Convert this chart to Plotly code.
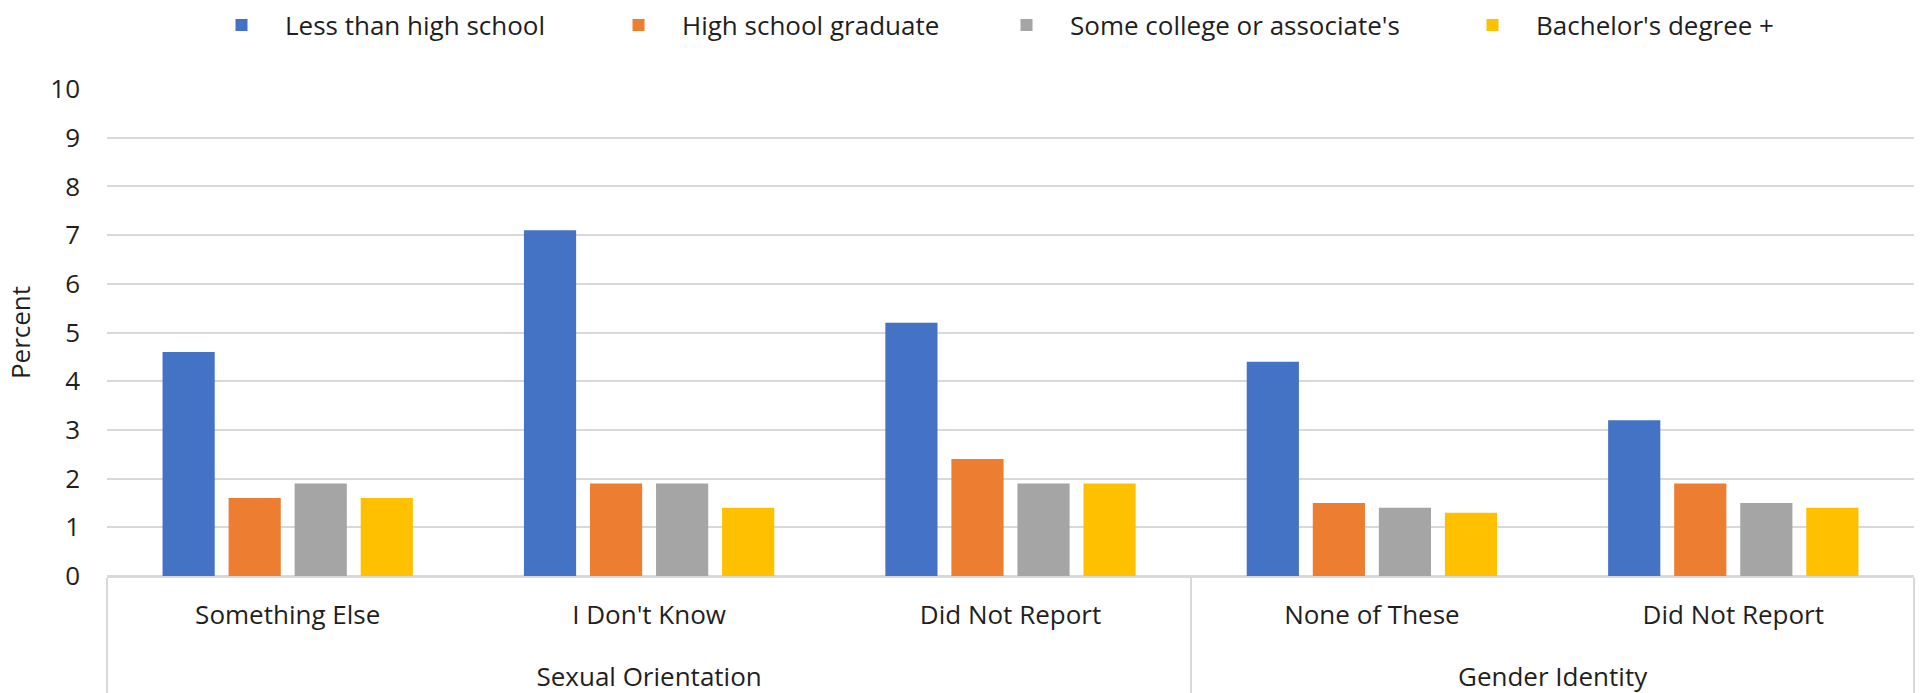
import plotly.graph_objects as go

# Grouping of the x axis: outer group and inner category
groups = ["Sexual Orientation", "Sexual Orientation", "Sexual Orientation",
          "Gender Identity", "Gender Identity"]
categories = ["Something Else", "I Don't Know", "Did Not Report",
              "None of These", "Did Not Report"]

# Percent by education level
less_than_hs = [4.6, 7.1, 5.2, 4.4, 3.2]
hs_graduate = [1.6, 1.9, 2.4, 1.5, 1.9]
some_college = [1.9, 1.9, 1.9, 1.4, 1.5]
bachelors_plus = [1.6, 1.4, 1.9, 1.3, 1.4]

series_names = ["Less than high school", "High school graduate",
                "Some college or associate's", "Bachelor's degree +"]
series_values = [less_than_hs, hs_graduate, some_college, bachelors_plus]
colors = ["#4472C4", "#ED7D31", "#A5A5A5", "#FFC000"]
legend_ids = ["legend", "legend2", "legend3", "legend4"]

y_ticks = list(range(0, 11))

# Plotly orders multicategory items by the first appearance of each inner label,
# so "None of These" is fed before the second "Did Not Report" to keep the
# within-group order (the groups themselves stay in their listed order).
feed_order = [0, 1, 3, 2, 4]

FONT = "Open Sans"
FS = 26
TEXT = "#1f1f1f"
GRID = "#d9d9d9"

W, H = 1923, 693
L, R, T, B = 107, 9, 89, 117
plot_w = W - L - R
plot_h = H - T - B

# A blank trailing line under each category label opens up the space between
# the category row and the group row of the axis.
SPACER = '<br><span style="font-size:46px">\u00a0</span>'

x_outer = [groups[i] for i in feed_order]
x_inner = [categories[i] + SPACER for i in feed_order]

fig = go.Figure()
for name, vals, col, lg in zip(series_names, series_values, colors, legend_ids):
    fig.add_trace(go.Bar(
        name=name,
        x=[x_outer, x_inner],
        y=[vals[i] for i in feed_order],
        marker=dict(color=col, line=dict(width=0)),
        legend=lg,
    ))

# Each legend entry is placed on its own so the spacing between entries can be set
square_left_px = [241, 638, 1026, 1492]
legend_common = dict(
    orientation="h",
    xanchor="left",
    yanchor="middle",
    y=(H - B - 25) / plot_h,
    font=dict(family=FONT, size=FS, color=TEXT),
    bgcolor="rgba(0,0,0,0)",
    borderwidth=0,
    itemwidth=77,
)
legend_layout = {}
for lg, px in zip(legend_ids, square_left_px):
    legend_layout[lg] = dict(legend_common, x=(px - 43 - L) / plot_w)

fig.update_layout(
    width=W,
    height=H,
    margin=dict(l=L, r=R, t=T, b=B, autoexpand=False),
    paper_bgcolor="white",
    plot_bgcolor="white",
    barmode="group",
    bargap=0.269,
    bargroupgap=0.21,
    font=dict(family=FONT, size=FS, color=TEXT),
    showlegend=True,
    **legend_layout,
)

fig.update_yaxes(
    range=[0, 10],
    tickvals=y_ticks,
    ticktext=[str(v) for v in y_ticks],
    showgrid=True,
    gridcolor=GRID,
    gridwidth=1.5,
    zeroline=True,
    zerolinecolor=GRID,
    zerolinewidth=1.5,
    showline=False,
    ticks="",
    ticklabelstandoff=26,
    tickfont=dict(family=FONT, size=FS, color=TEXT),
    title=dict(text="Percent", font=dict(family=FONT, size=FS, color=TEXT), standoff=12),
    automargin=False,
    fixedrange=True,
)

fig.update_xaxes(
    type="multicategory",
    showline=True,
    linecolor=GRID,
    linewidth=1.5,
    showgrid=False,
    ticks="",
    ticklabelstandoff=15,
    showdividers=True,
    dividercolor=GRID,
    dividerwidth=1.5,
    tickfont=dict(family=FONT, size=FS, color=TEXT),
    automargin=False,
    fixedrange=True,
)

fig.write_html("out.html", config={"displayModeBar": False})
